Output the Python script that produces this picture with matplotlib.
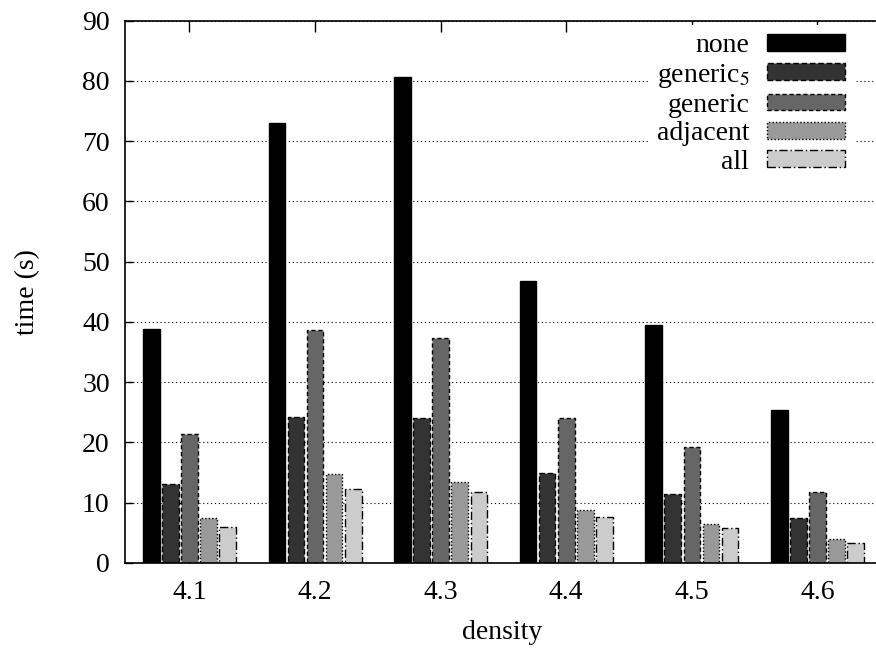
import matplotlib
matplotlib.use("Agg")
import matplotlib.pyplot as plt
import numpy as np

plt.rcParams['font.family'] = ['Liberation Serif', 'DejaVu Serif']
plt.rcParams['mathtext.fontset'] = 'stix'

densities = ["4.1", "4.2", "4.3", "4.4", "4.5", "4.6"]
series_names = ["none", "generic$_5$", "generic", "adjacent", "all"]
none_vals = [38.8, 73.0, 80.6, 46.8, 39.5, 25.4]
generic5_vals = [13.1, 24.2, 24.1, 14.9, 11.5, 7.4]
generic_vals = [21.4, 38.7, 37.3, 24.0, 19.2, 11.8]
adjacent_vals = [7.5, 14.8, 13.4, 8.8, 6.5, 3.9]
all_vals = [6.0, 12.2, 11.7, 7.6, 5.8, 3.3]
yticks = [0, 10, 20, 30, 40, 50, 60, 70, 80, 90]

series = [none_vals, generic5_vals, generic_vals, adjacent_vals, all_vals]
colors = ["#000000", "#333333", "#666666", "#999999", "#cccccc"]
styles = ["-", (0, (4, 2)), (0, (3, 2)), (0, (1, 1.5)), (0, (6, 2, 1, 2))]

W, H = 876, 655
fig = plt.figure(figsize=(W / 100, H / 100), dpi=100)
ax = fig.add_axes([125 / W, (H - 563) / H, (879 - 125) / W, (563 - 20.5) / H])

x = np.arange(len(densities))
pitch = 0.152
bw = 0.132
for k, (vals, c, ls, name) in enumerate(zip(series, colors, styles, series_names)):
    ax.bar(x + (k - 2) * pitch, vals, width=bw, color=c, edgecolor="black",
           linewidth=1.0, linestyle=ls, label=name, zorder=2)

ax.set_xlim(-0.513, 5.49)
ax.set_ylim(0, 90)
ax.set_yticks(yticks)
ax.set_xticks(x)
ax.set_xticklabels(densities)
ax.set_axisbelow(True)
ax.grid(axis='y', linestyle=(0, (1, 2.5)), color='black', linewidth=0.8)
ax.tick_params(axis='y', direction='in', length=6, width=1, labelsize=20, pad=11)
ax.tick_params(axis='x', direction='in', length=8, width=1, labelsize=20, pad=12,
               top=True)
ax.spines['right'].set_visible(False)
for s in ['left', 'top', 'bottom']:
    ax.spines[s].set_linewidth(1.2)

ax.set_xlabel("density", fontsize=20, labelpad=11)
ax.set_ylabel("time (s)", fontsize=20, labelpad=30)

leg = ax.legend(loc='upper right', bbox_to_anchor=((846 - 125) / (879 - 125) + 0.01, 0.992),
                fontsize=20, markerfirst=False, frameon=True, fancybox=False,
                handlelength=2.8, handleheight=0.55, handletextpad=0.65,
                labelspacing=0.12, borderpad=0.3, borderaxespad=0.0)
leg.get_frame().set_edgecolor('none')
leg.get_frame().set_facecolor('white')
leg.get_frame().set_alpha(1.0)
for t in leg.get_texts():
    t.set_ha('right')

fig.savefig("out.png", dpi=100)
